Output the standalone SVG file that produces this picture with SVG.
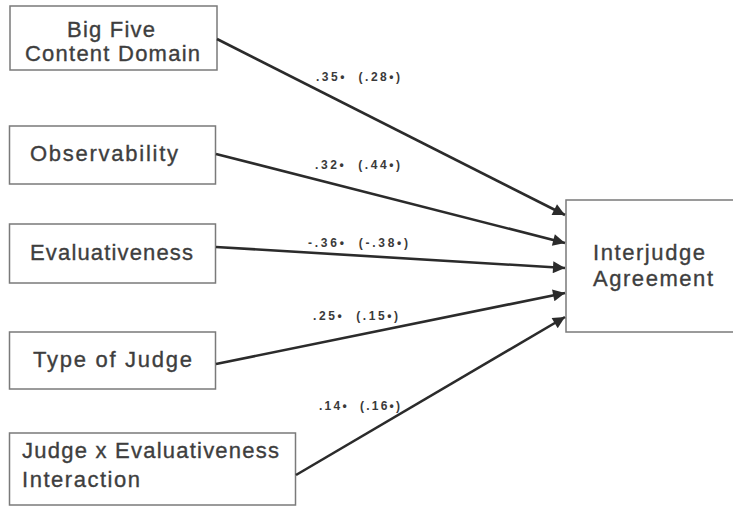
<svg xmlns="http://www.w3.org/2000/svg" width="733" height="508" viewBox="0 0 733 508">
<style>
.box{fill:#fff;stroke:#7a7a7a;stroke-width:1.5}
.t{font-family:"Liberation Sans",Arial,sans-serif;font-size:22px;fill:#3e3e3e;stroke:#3e3e3e;stroke-width:0.35}
.lbl{font-family:"Liberation Sans",Arial,sans-serif;font-size:12px;font-weight:bold;fill:#3a3a3a}
.edge{stroke:#2b2b2b;stroke-width:2.6;fill:none;marker-end:url(#ah)}
</style>
<defs>
<marker id="ah" viewBox="0 0 10 10" refX="10" refY="5" markerUnits="userSpaceOnUse" markerWidth="15" markerHeight="12" orient="auto">
<path d="M0,0 L10,5 L0,10 z" fill="#2b2b2b"/>
</marker>
</defs>
<rect width="733" height="508" fill="#fff"/>
<g id="n1">
<rect class="box" x="10" y="6" width="207" height="64"/>
<text class="t" x="111" y="37" text-anchor="middle" textLength="88" lengthAdjust="spacing">Big Five</text>
<text class="t" x="112.5" y="61" text-anchor="middle" textLength="175" lengthAdjust="spacing">Content Domain</text>
</g>
<g id="n2">
<rect class="box" x="9.5" y="126" width="206" height="58"/>
<text class="t" x="30" y="161" textLength="148" lengthAdjust="spacing">Observability</text>
</g>
<g id="n3">
<rect class="box" x="9.5" y="224" width="206" height="59"/>
<text class="t" x="30" y="260" textLength="163" lengthAdjust="spacing">Evaluativeness</text>
</g>
<g id="n4">
<rect class="box" x="9.5" y="332" width="206" height="57"/>
<text class="t" x="33" y="367" textLength="159" lengthAdjust="spacing">Type of Judge</text>
</g>
<g id="n5">
<rect class="box" x="9.5" y="433" width="286" height="72"/>
<text class="t" x="22" y="458" textLength="257" lengthAdjust="spacing">Judge x Evaluativeness</text>
<text class="t" x="22" y="487" textLength="118" lengthAdjust="spacing">Interaction</text>
</g>
<g id="target">
<rect class="box" x="566" y="200" width="180" height="132"/>
<text class="t" x="593" y="260" textLength="112" lengthAdjust="spacing">Interjudge</text>
<text class="t" x="593" y="286" textLength="120" lengthAdjust="spacing">Agreement</text>
</g>
<g id="connectors">
<line class="edge" x1="217" y1="39" x2="565" y2="215"/>
<line class="edge" x1="216" y1="154" x2="565" y2="243"/>
<line class="edge" x1="216" y1="247" x2="565" y2="268"/>
<line class="edge" x1="216" y1="364" x2="565" y2="293"/>
<line class="edge" x1="296" y1="475" x2="565" y2="317"/>
<text class="lbl" x="316" y="81" textLength="84" lengthAdjust="spacing" xml:space="preserve">.35•  (.28•)</text>
<text class="lbl" x="315" y="169" textLength="85" lengthAdjust="spacing" xml:space="preserve">.32•  (.44•)</text>
<text class="lbl" x="308" y="247" textLength="100" lengthAdjust="spacing" xml:space="preserve">-.36•  (-.38•)</text>
<text class="lbl" x="313" y="320" textLength="85" lengthAdjust="spacing" xml:space="preserve">.25•  (.15•)</text>
<text class="lbl" x="319" y="410" textLength="81" lengthAdjust="spacing" xml:space="preserve">.14•  (.16•)</text>
</g>
</svg>
